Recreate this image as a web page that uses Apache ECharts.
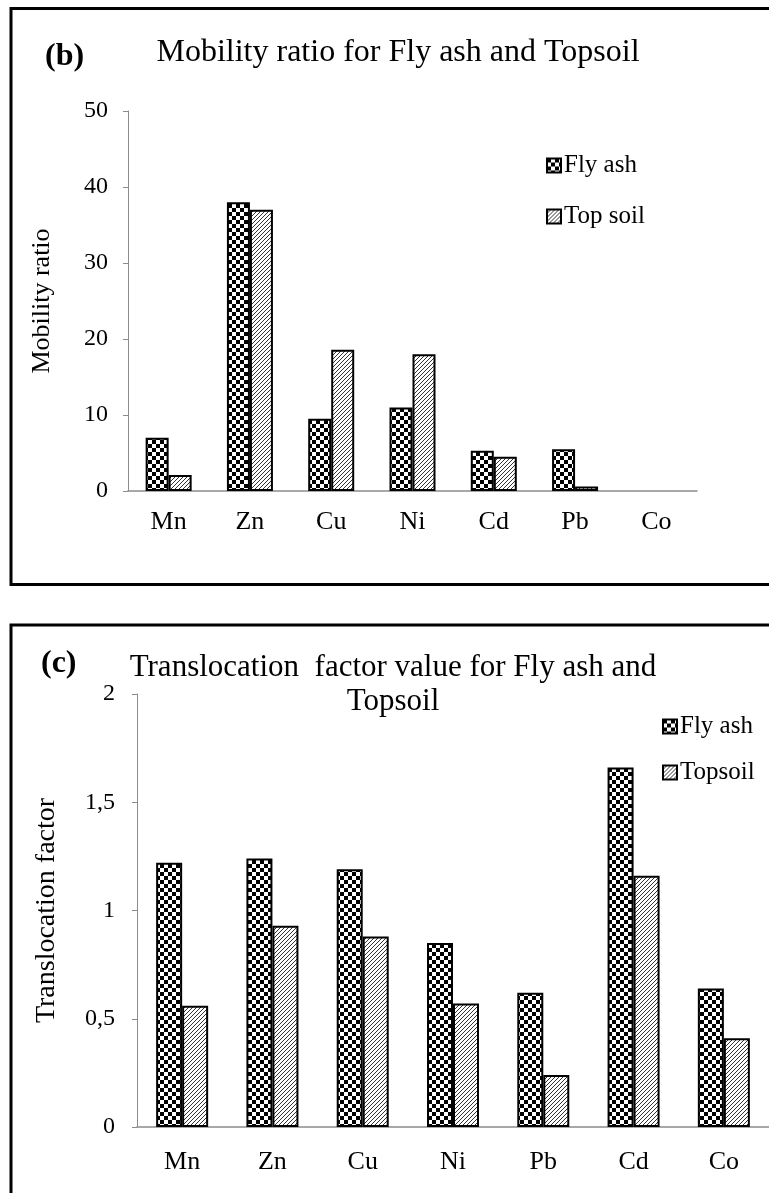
<!DOCTYPE html>
<html>
<head>
<meta charset="utf-8">
<script src="https://cdn.jsdelivr.net/npm/echarts@6/dist/echarts.min.js"></script>
<style>
  html, body { margin: 0; padding: 0; background: #fff; }
  #chart { width: 769px; height: 1193px; }
</style>
</head>
<body>
<div id="chart"></div>
<script>
// panel (b) - mobility ratio
const metalsB = ['Mn', 'Zn', 'Cu', 'Ni', 'Cd', 'Pb', 'Co'];
const flyAshB = [7.0, 38.0, 9.5, 11.0, 5.3, 5.5, 0];
const topSoilB = [2.1, 37.0, 18.6, 18.0, 4.5, 0.6, 0];
const yTicksB = [0, 10, 20, 30, 40, 50];

// panel (c) - translocation factor
const metalsC = ['Mn', 'Zn', 'Cu', 'Ni', 'Pb', 'Cd', 'Co'];
const flyAshC = [1.22, 1.24, 1.19, 0.85, 0.62, 1.66, 0.64];
const topSoilC = [0.56, 0.93, 0.88, 0.57, 0.24, 1.16, 0.41];
const yTicksC = [0, 0.5, 1, 1.5, 2];

const FONT = 'Liberation Serif';
const AXIS_GRAY = '#8c8c8c';

/**
 * small repeating canvas used as bar fill
 */
function makePattern(draw, size) {
    const c = document.createElement('canvas');
    c.width = size;
    c.height = size;
    const ctx = c.getContext('2d');
    ctx.fillStyle = '#fff';
    ctx.fillRect(0, 0, size, size);
    draw(ctx, size);
    return { image: c, repeat: 'repeat' };
}

const checker = makePattern((ctx) => {
    ctx.fillStyle = '#000';
    ctx.fillRect(0, 0, 4, 4);
    ctx.fillRect(4, 4, 4, 4);
}, 8);

const hatch = makePattern((ctx, s) => {
    ctx.strokeStyle = '#333';
    ctx.lineWidth = 1;
    ctx.beginPath();
    ctx.moveTo(-1, s + 1);
    ctx.lineTo(s + 1, -1);
    ctx.moveTo(-1, 1);
    ctx.lineTo(1, -1);
    ctx.moveTo(s - 1, s + 1);
    ctx.lineTo(s + 1, s - 1);
    ctx.stroke();
}, 4);

// zero values are not drawn as bars in the original
const skipZero = arr => arr.map(v => (v === 0 ? '-' : v));
const commaNum = v => String(v).replace('.', ',');

function yAxisOpt(gridIndex, ticks, name, nameGap, nameSize, margin, formatter) {
    return {
        type: 'value',
        gridIndex: gridIndex,
        min: ticks[0],
        max: ticks[ticks.length - 1],
        interval: ticks[1] - ticks[0],
        name: name,
        nameLocation: 'middle',
        nameGap: nameGap,
        nameTextStyle: { fontFamily: FONT, fontSize: nameSize, color: '#000' },
        axisLine: { show: true, lineStyle: { color: AXIS_GRAY, width: 1 } },
        axisTick: { show: true, length: 5, lineStyle: { color: AXIS_GRAY } },
        splitLine: { show: false },
        axisLabel: { fontFamily: FONT, fontSize: 24, color: '#000', margin: margin, formatter: formatter }
    };
}

function xAxisOpt(gridIndex, cats, margin) {
    return {
        type: 'category',
        gridIndex: gridIndex,
        data: cats,
        axisLine: { lineStyle: { color: AXIS_GRAY, width: 1.5 } },
        axisTick: { show: false },
        axisLabel: { fontFamily: FONT, fontSize: 26, color: '#000', margin: margin }
    };
}

function barSeries(name, idx, values, fill, width) {
    return {
        type: 'bar',
        name: name,
        xAxisIndex: idx,
        yAxisIndex: idx,
        data: skipZero(values),
        barWidth: width,
        barGap: '0%',
        itemStyle: { color: fill, borderColor: '#000', borderWidth: 2 },
        emphasis: { disabled: true },
        animation: false
    };
}

function legendOpt(names, left, top, gap) {
    return {
        data: names,
        orient: 'vertical',
        left: left,
        top: top,
        icon: 'rect',
        itemWidth: 14,
        itemHeight: 14,
        itemGap: gap,
        itemStyle: { borderColor: '#000', borderWidth: 2 },
        textStyle: { fontFamily: FONT, fontSize: 25, color: '#000', padding: [0, 0, 0, -2] }
    };
}

const chart = echarts.init(document.getElementById('chart'), null, { renderer: 'canvas' });

chart.setOption({
    backgroundColor: '#fff',
    animation: false,
    title: [
        { text: '(b)', left: 40, top: 36, textStyle: { fontFamily: FONT, fontSize: 32, fontWeight: 'bold', color: '#000' } },
        { text: 'Mobility ratio for Fly ash and Topsoil', left: 393, top: 32, textAlign: 'center',
          textStyle: { fontFamily: FONT, fontSize: 32, fontWeight: 'normal', color: '#000' } },
        { text: '(c)', left: 36, top: 643, textStyle: { fontFamily: FONT, fontSize: 32, fontWeight: 'bold', color: '#000' } },
        { text: 'Translocation  factor value for Fly ash and\nTopsoil', left: 388, top: 646, textAlign: 'center',
          textStyle: { fontFamily: FONT, fontSize: 31, fontWeight: 'normal', color: '#000', lineHeight: 34 } }
    ],
    legend: [
        legendOpt(['Fly ash', 'Top soil'], 541, 148, 26),
        legendOpt(['Fly ash ', 'Topsoil'], 657, 709, 21)
    ],
    grid: [
        { left: 128, top: 111, width: 569, height: 380 },
        { left: 137, top: 694, width: 637, height: 433 }
    ],
    xAxis: [xAxisOpt(0, metalsB, 18), xAxisOpt(1, metalsC, 22)],
    yAxis: [
        yAxisOpt(0, yTicksB, 'Mobility ratio', 73, 26, 20),
        yAxisOpt(1, yTicksC, 'Translocation factor', 76, 28, 22, commaNum)
    ],
    series: [
        barSeries('Fly ash', 0, flyAshB, checker, 23),
        barSeries('Top soil', 0, topSoilB, hatch, 23),
        barSeries('Fly ash ', 1, flyAshC, checker, 26),
        barSeries('Topsoil', 1, topSoilC, hatch, 26)
    ],
    graphic: [
        // panel frames, open on the right like the cropped original
        { type: 'rect', shape: { x: 11, y: 8.5, width: 800, height: 576 }, style: { fill: null, stroke: '#000', lineWidth: 3 }, silent: true },
        { type: 'rect', shape: { x: 11, y: 625, width: 800, height: 620 }, style: { fill: null, stroke: '#000', lineWidth: 3 }, silent: true }
    ]
});
</script>
</body>
</html>
